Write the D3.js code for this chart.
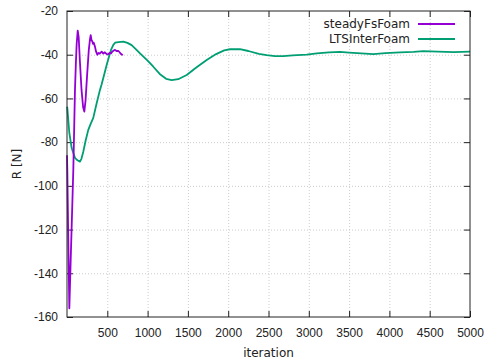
<!DOCTYPE html>
<html>
<head>
<meta charset="utf-8">
<script src="https://cdn.jsdelivr.net/npm/d3@7"></script>
<style>
  body { margin: 0; background: #fff; }
  svg { display: block; font-family: "DejaVu Sans", sans-serif; }
</style>
</head>
<body>
<div id="chart"></div>
<script>
// data: [iteration, R]
const steadyIter = [0, 4, 15, 29, 45, 60, 78, 90, 99, 110, 120, 133, 145, 160, 180, 200, 215, 230, 250, 270, 285, 294, 305, 314, 322, 332, 347, 360, 376, 390, 405, 430, 450, 470, 493, 510, 530, 546, 560, 580, 596, 615, 636, 655, 668, 679, 690];
const steadyR = [-86, -93, -122, -156, -135, -116, -93, -72, -56, -44, -35, -29, -32, -43, -56, -64, -66, -61, -49, -38, -33, -31, -33.5, -33.8, -35, -34.5, -36.3, -38.5, -40, -39.2, -39.5, -38.6, -39.5, -38.9, -39.7, -39.8, -39.2, -39.4, -38.6, -38.1, -37.8, -38.3, -38.2, -39, -39.6, -39.8, -40.3];

const ltsIter = [0, 4, 29, 58, 99, 130, 161, 180, 202, 230, 264, 295, 326, 368, 409, 430, 460, 492, 520, 546, 575, 596, 640, 699, 750, 802, 850, 906, 1000, 1071, 1150, 1230, 1299, 1380, 1485, 1600, 1733, 1850, 1950, 2022, 2146, 2250, 2380, 2478, 2580, 2684, 2800, 2973, 3100, 3250, 3387, 3500, 3650, 3800, 3950, 4131, 4300, 4420, 4600, 4800, 5000];
const ltsR = [-63.8, -64.4, -75.8, -82.7, -87.2, -88.3, -88.9, -87.5, -84.4, -79.5, -74.4, -71.5, -68.9, -62.2, -56.1, -53.5, -49.3, -44.7, -41, -37.8, -35.5, -34.5, -34.2, -34, -34.6, -35.6, -37.3, -39.4, -42.7, -45.5, -48.8, -51, -51.6, -51.2, -49.3, -46, -42.4, -39.7, -38, -37.5, -37.4, -38.3, -39.6, -40.2, -40.6, -40.6, -40.3, -40, -39.4, -38.9, -38.7, -39, -39.4, -39.7, -39.3, -38.9, -38.7, -38.4, -38.6, -38.8, -38.6];

const xTicks = [500, 1000, 1500, 2000, 2500, 3000, 3500, 4000, 4500, 5000];
const yTicks = [-20, -40, -60, -80, -100, -120, -140, -160];

const seriesNames = ["steadyFsFoam", "LTSInterFoam"];
const seriesColors = ["#9400d3", "#009e73"];

// 1) svg
const width = 489;
const height = 359;
const margin = { top: 11, right: 19, bottom: 42, left: 67 };

const svg = d3
  .select("#chart")
  .append("svg")
  .attr("width", width)
  .attr("height", height);

// 2) scales
const x = d3
  .scaleLinear()
  .domain([0, 5000])
  .range([margin.left, width - margin.right]);

const y = d3
  .scaleLinear()
  .domain([-160, -20])
  .range([height - margin.bottom, margin.top]);

const plotH = height - margin.bottom - margin.top;
const plotW = width - margin.right - margin.left;

// plain labels, hyphen minus, no thousands separator
const plain = (d) => String(d);

// 3) grid (dotted)
const gridX = svg
  .append("g")
  .attr("transform", `translate(0,${height - margin.bottom})`)
  .call(d3.axisBottom(x).tickValues(xTicks.slice(0, -1)).tickSize(-plotH).tickFormat(""));
const gridY = svg
  .append("g")
  .attr("transform", `translate(${margin.left},0)`)
  .call(d3.axisLeft(y).tickValues(yTicks.slice(1, -1)).tickSize(-plotW).tickFormat(""));
[gridX, gridY].forEach((g) => {
  g.select(".domain").remove();
  g.selectAll("line")
    .attr("stroke", "#cccccc")
    .attr("stroke-width", 1)
    .attr("stroke-dasharray", "1,2");
});

// 4) axes with inward ticks on all four sides
const axisStyle = (g) => {
  g.select(".domain").remove();
  g.selectAll("line").attr("stroke", "#222");
  g.selectAll("text").attr("fill", "#222").style("font-size", "12px");
};

svg
  .append("g")
  .attr("transform", `translate(0,${height - margin.bottom})`)
  .call(d3.axisBottom(x).tickValues(xTicks).tickSize(-6).tickPadding(11.5).tickFormat(plain))
  .call(axisStyle);

svg
  .append("g")
  .attr("transform", `translate(0,${margin.top})`)
  .call(d3.axisTop(x).tickValues(xTicks).tickSize(-6).tickFormat(""))
  .call(axisStyle);

svg
  .append("g")
  .attr("transform", `translate(${margin.left},0)`)
  .call(d3.axisLeft(y).tickValues(yTicks).tickSize(-6).tickPadding(9).tickFormat(plain))
  .call(axisStyle);

svg
  .append("g")
  .attr("transform", `translate(${width - margin.right},0)`)
  .call(d3.axisRight(y).tickValues(yTicks).tickSize(-6).tickFormat(""))
  .call(axisStyle);

// 5) series lines
const line = d3
  .line()
  .x((d) => x(d[0]))
  .y((d) => y(d[1]));

const series = [
  d3.zip(steadyIter, steadyR),
  d3.zip(ltsIter, ltsR),
];

// green drawn first so purple sits on top
[1, 0].forEach((i) => {
  svg
    .append("path")
    .datum(series[i])
    .attr("fill", "none")
    .attr("stroke", seriesColors[i])
    .attr("stroke-width", 1.8)
    .attr("stroke-linejoin", "round")
    .attr("d", line);
});

// 6) frame
svg
  .append("rect")
  .attr("x", margin.left)
  .attr("y", margin.top)
  .attr("width", plotW)
  .attr("height", plotH)
  .attr("fill", "none")
  .attr("stroke", "#222")
  .attr("stroke-width", 1);

// 7) axis labels
svg
  .append("text")
  .attr("x", (margin.left + width - margin.right) / 2)
  .attr("y", 357)
  .attr("text-anchor", "middle")
  .attr("fill", "#222")
  .style("font-size", "12px")
  .text("iteration");

svg
  .append("text")
  .attr("transform", "rotate(-90)")
  .attr("x", -(margin.top + plotH / 2))
  .attr("y", 20.5)
  .attr("text-anchor", "middle")
  .attr("fill", "#222")
  .style("font-size", "12px")
  .text("R [N]");

// 8) legend
const legend = svg
  .selectAll(".legend")
  .data(seriesNames)
  .enter()
  .append("g")
  .attr("transform", (d, i) => `translate(0,${24 + i * 15})`);

legend
  .append("text")
  .attr("x", 410)
  .attr("dy", "0.35em")
  .attr("text-anchor", "end")
  .attr("fill", "#222")
  .style("font-size", "12px")
  .text((d) => d);

legend
  .append("line")
  .attr("x1", 418)
  .attr("x2", 455)
  .attr("stroke", (d, i) => seriesColors[i])
  .attr("stroke-width", 1.8);
</script>
</body>
</html>
